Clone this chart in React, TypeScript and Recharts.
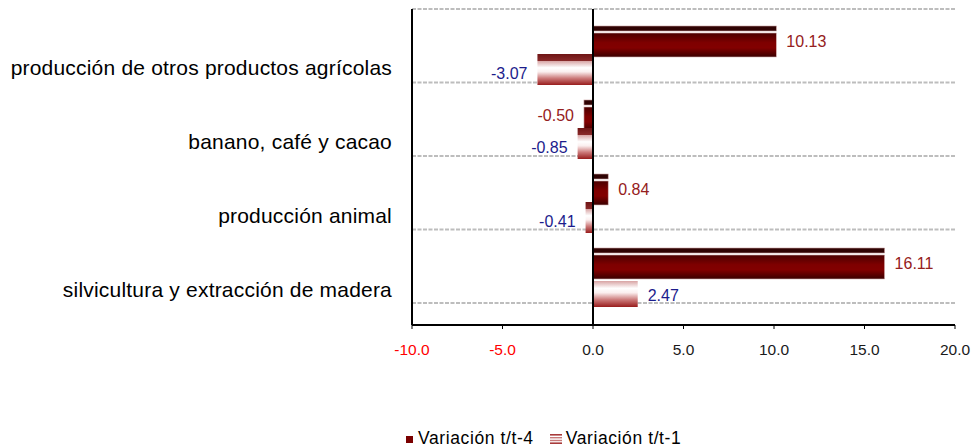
import React from 'react';
import { BarChart, Bar, XAxis, YAxis, CartesianGrid, ReferenceLine, LabelList, Legend } from 'recharts';

const categories = [
  'producción de otros productos agrícolas',
  'banano, café y cacao',
  'producción animal',
  'silvicultura y extracción de madera',
];
const t4Values = [10.13, -0.5, 0.84, 16.11];
const t1Values = [-3.07, -0.85, -0.41, 2.47];
const xTicks = [-10, -5, 0, 5, 10, 15, 20];
const seriesNames = ['Variación t/t-4', 'Variación t/t-1'];

const data = categories.map((name, i) => ({ name, t4: t4Values[i], t1: t1Values[i] }));

const FONT = '"Liberation Sans", Arial, Helvetica, sans-serif';

function norm(p: any) {
  const x = Number(p.x), w = Number(p.width), y = Number(p.y), h = Number(p.height);
  return { left: Math.min(x, x + w), w: Math.abs(w), top: Math.min(y, y + h), h: Math.abs(h) };
}

const T4Shape = (p: any) => {
  const { left, w, top, h } = norm(p);
  if (!w) return <g />;
  return (
    <g>
      <rect x={left} y={top} width={w} height={5} fill="#2f0303" stroke="#caa0a0" strokeWidth={0.6} />
      <rect x={left} y={top + 7} width={w} height={h - 7} fill="url(#gT4)" stroke="#d8b4b4" strokeWidth={0.6} />
    </g>
  );
};

const T1Shape = (p: any) => {
  const { left, w, top, h } = norm(p);
  if (!w) return <g />;
  const v = p.payload ? Number(p.payload.t1) : 0;
  if (v < 0) {
    return (
      <g>
        <rect x={left} y={top} width={w} height={7} fill="url(#gT1Face)" />
        <rect x={left} y={top + 7} width={w} height={h - 7} fill="url(#gT1)" />
      </g>
    );
  }
  return (
    <g>
      <rect x={left} y={top + 5} width={w} height={h - 5} fill="url(#gT1)" />
    </g>
  );
};

const makeLabel = (color: string, dyShift: number) => (p: any) => {
  const { left, w, top, h } = norm(p);
  const v = Number(p.value);
  const neg = v < 0;
  const tx = neg ? left - 10 : left + w + 10;
  return (
    <text
      x={tx}
      y={top + h / 2 + dyShift}
      dy="0.355em"
      textAnchor={neg ? 'end' : 'start'}
      fill={color}
      fontSize={16}
      fontFamily={FONT}
    >
      {v.toFixed(2)}
    </text>
  );
};

const XTick = (props: any) => {
  const { x, y, payload } = props;
  const v = Number(payload.value);
  return (
    <text x={x} y={y} dy="0.71em" textAnchor="middle" fill={v < 0 ? '#ff0000' : '#1a1a1a'} fontSize={15.5} fontFamily={FONT}>
      {v.toFixed(1)}
    </text>
  );
};

const YTick = (props: any) => {
  const { x, y, payload } = props;
  return (
    <text x={x} y={Number(y) + 12.5} dy="0.355em" textAnchor="end" fill="#000" fontSize={21} fontFamily={FONT} letterSpacing={0.2}>
      {payload.value}
    </text>
  );
};

const renderLegend = () => (
  <div style={{ height: 16, lineHeight: '16px', position: 'relative' }}>
    <div
      style={{
        position: 'relative',
        top: -1,
        display: 'flex',
        alignItems: 'center',
        paddingLeft: 406,
        fontFamily: FONT,
        fontSize: 17.5,
        letterSpacing: 0.6,
        color: '#000',
        whiteSpace: 'nowrap',
      }}
    >
      <svg width={7} height={7} style={{ marginRight: 5, marginTop: 2 }}>
        <rect x={0} y={0} width={7} height={7} fill="#7a0000" />
      </svg>
      <span>{seriesNames[0]}</span>
      <svg width={12} height={10} style={{ marginLeft: 16, marginRight: 4, marginTop: 2 }}>
        <rect x={0} y={0} width={12} height={10} fill="#fff" />
        <rect x={0} y={0} width={12} height={1.6} fill="#a83a3a" />
        <rect x={0} y={3} width={12} height={1.4} fill="#c77a7a" />
        <rect x={0} y={5.8} width={12} height={1.4} fill="#c77a7a" />
        <rect x={0} y={8.4} width={12} height={1.6} fill="#a83a3a" />
      </svg>
      <span>{seriesNames[1]}</span>
    </div>
  </div>
);

const gridGen = (props: any) => {
  const off = props.offset;
  const step = (off.height - 22) / 4;
  return [0, 1, 2, 3, 4].map((i) => off.top + i * step);
};

export default function App() {
  return (
    <div style={{ width: 972, height: 447 }}>
      <style>{'html,body{margin:0;padding:0;overflow:hidden;background:#fff}'}</style>
      <BarChart
        width={972}
        height={447}
        data={data}
        layout="vertical"
        margin={{ top: 9, right: 17, bottom: 0, left: 0 }}
        barSize={31}
        barGap={-3}
      >
        <defs>
          <linearGradient id="gT4" x1="0" y1="0" x2="0" y2="1">
            <stop offset="0%" stopColor="#4a0000" />
            <stop offset="40%" stopColor="#7e0000" />
            <stop offset="62%" stopColor="#820000" />
            <stop offset="100%" stopColor="#3a0000" />
          </linearGradient>
          <linearGradient id="gT1" x1="0" y1="0" x2="0" y2="1">
            <stop offset="0%" stopColor="#d8a4a4" />
            <stop offset="28%" stopColor="#ffffff" />
            <stop offset="45%" stopColor="#fbefef" />
            <stop offset="72%" stopColor="#cc7a7a" />
            <stop offset="100%" stopColor="#981c1c" />
          </linearGradient>
          <linearGradient id="gT1Face" x1="0" y1="0" x2="0" y2="1">
            <stop offset="0%" stopColor="#6e1414" />
            <stop offset="100%" stopColor="#8a2a2a" />
          </linearGradient>
        </defs>
        <CartesianGrid
          horizontal
          vertical={false}
          stroke="#bdbdbd"
          strokeDasharray="4 1.5"
          strokeWidth={2}
          horizontalCoordinatesGenerator={gridGen}
        />
        <XAxis
          type="number"
          domain={[-10, 20]}
          ticks={xTicks}
          height={106}
          axisLine={{ stroke: '#000', strokeWidth: 2 }}
          tickLine={{ stroke: '#000' }}
          tickSize={4}
          tickMargin={15}
          tick={<XTick />}
          interval={0}
        />
        <YAxis
          type="category"
          dataKey="name"
          width={412}
          axisLine={{ stroke: '#000', strokeWidth: 2 }}
          tickLine={false}
          tickSize={0}
          tickMargin={20}
          tick={<YTick />}
          padding={{ top: 9, bottom: 11 }}
          interval={0}
        />
        <Legend verticalAlign="bottom" align="left" content={renderLegend} />
        <Bar dataKey="t4" name={seriesNames[0]} shape={T4Shape} isAnimationActive={false}>
          <LabelList dataKey="t4" content={makeLabel('#952020', 0)} />
        </Bar>
        <Bar dataKey="t1" name={seriesNames[1]} shape={T1Shape} isAnimationActive={false}>
          <LabelList dataKey="t1" content={makeLabel('#1c1c8c', 4)} />
        </Bar>
        <ReferenceLine x={0} stroke="#000" strokeWidth={2} />
      </BarChart>
    </div>
  );
}
